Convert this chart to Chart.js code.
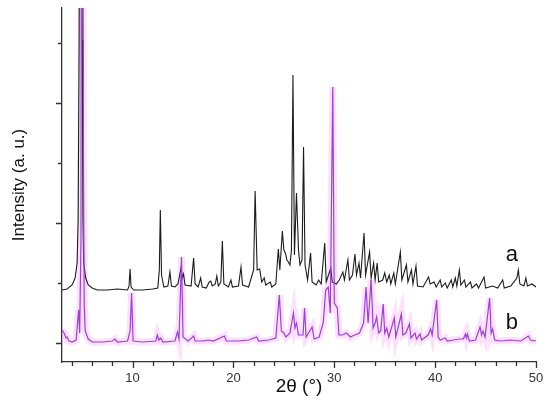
<!DOCTYPE html>
<html>
<head>
<meta charset="utf-8">
<script src="https://cdn.jsdelivr.net/npm/chart.js@4.4.0/dist/chart.umd.min.js"></script>
<style>
  body { margin: 0; background: #fff; }
  canvas { display: block; }
</style>
</head>
<body>
<canvas id="xrdChart" width="550" height="404"></canvas>
<script>
// pattern a (black), 2theta in degrees and intensity above its own baseline (a.u.)
const twoThetaA = [3.0, 3.5, 4.0, 4.3, 4.5, 4.6, 4.7, 4.8, 4.9, 5.0, 5.08, 5.15, 5.35, 5.6, 6.0, 6.5, 7.5, 8.5, 9.5, 9.65, 9.75, 9.85, 10.1,
  11.0, 12.0, 12.5, 12.65, 12.75, 12.87, 13.1, 13.5, 13.7, 13.85, 14.2, 14.5, 14.8, 14.92, 15.05, 15.2, 15.8, 16.05, 16.2, 16.5,
  16.75, 16.9, 17.3, 17.6, 17.75, 17.9, 18.2, 18.35, 18.5, 18.75, 18.9, 19.05, 19.5, 19.75, 19.9, 20.5, 20.75, 20.9, 21.5, 22.0,
  22.15, 22.35, 22.6, 22.8, 23.05, 23.2, 23.65, 23.8, 24.2, 24.45, 24.6, 24.85, 25.0, 25.15, 25.3, 25.45, 25.6, 25.75, 25.9, 26.05,
  26.25, 26.45, 26.6, 26.8, 26.95, 27.1, 27.35, 27.65, 27.8, 28.2, 28.45, 28.7, 29.05, 29.2, 29.65, 29.8, 30.2, 30.5, 30.85, 31.0,
  31.35, 31.5, 31.8, 32.05, 32.2, 32.45, 32.6, 32.95, 33.1, 33.5, 33.65, 33.9, 34.05, 34.25, 34.4, 34.8, 35.0, 35.2, 35.45, 35.6,
  35.9, 36.05, 36.55, 36.7, 37.15, 37.3, 37.65, 37.8, 38.1, 38.25, 38.8, 39.35, 39.5, 39.9, 40.1, 40.5, 40.65, 41.0, 41.2, 41.6,
  41.75, 42.0, 42.15, 42.4, 42.55, 42.9, 43.05, 43.5, 43.65, 44.1, 44.3, 44.85, 45.0, 45.7, 46.2, 46.7, 46.85, 47.5, 48.1, 48.25,
  48.4, 48.8, 49.0, 49.15, 49.6, 50.0];
const intensityA = [0, 1, 5, 12, 27, 70, 250, 700, 700, 250, 70, 27, 12, 5, 2, 0, 0, 1, 0, 4, 21, 3, 0,
  0, 1, 2, 20, 80, 15, 3, 4, 18, 4, 3, 6, 22, 12, 16, 5, 4, 32, 6, 3,
  12, 3, 2, 8, 9, 4, 6, 14, 4, 8, 49, 6, 3, 10, 3, 4, 23, 5, 3, 20,
  99, 20, 21, 8, 12, 5, 8, 3, 6, 41, 20, 59, 40, 37, 30, 28, 25, 40, 215, 35,
  97, 40, 25, 30, 143, 25, 10, 37, 8, 5, 10, 6, 47, 8, 22, 8, 6, 10, 18, 10,
  30, 10, 15, 36, 15, 27, 12, 57, 15, 38, 12, 27, 10, 27, 8, 10, 17, 8, 15, 6,
  17, 6, 38, 10, 25, 8, 20, 6, 24, 4, 3, 13, 6, 8, 3, 10, 3, 7, 2, 10,
  3, 12, 4, 20, 5, 10, 3, 8, 2, 6, 2, 13, 2, 4, 2, 10, 2, 4, 12, 20,
  6, 4, 12, 4, 6, 3];

// pattern b (magenta)
const twoThetaB = [3.0, 3.2, 3.4, 3.5, 3.7, 4.0, 4.4, 4.65, 4.75, 4.88, 4.94, 5.04, 5.12, 5.2, 5.3, 5.6, 6.0, 7.0, 8.0, 8.25, 8.5,
  9.5, 9.75, 9.9, 10.05, 11.0, 12.3, 12.45, 12.6, 12.8, 13.0, 14.2, 14.45, 14.6, 14.85, 15.0, 15.5, 16.05, 16.2, 17.0, 17.5,
  18.0, 19.1, 19.3, 20.5, 21.5, 22.3, 22.5, 23.5, 24.2, 24.55, 24.75, 25.0, 25.2, 25.6, 25.95, 26.1, 26.25, 26.45, 26.9, 27.05,
  27.2, 27.8, 28.0, 28.5, 28.9, 29.15, 29.4, 29.6, 29.85, 30.0, 30.3, 30.45, 30.8, 31.2, 31.6, 32.0, 32.5, 32.9, 33.15, 33.35,
  33.65, 33.85, 34.05, 34.2, 34.4, 34.6, 34.85, 35.0, 35.2, 35.4, 35.95, 36.1, 36.65, 36.8, 37.1, 37.45, 37.6, 38.0, 38.15, 38.5,
  38.65, 39.3, 39.55, 39.7, 40.15, 40.3, 40.5, 41.0, 41.2, 41.8, 42.4, 42.8, 43.0, 43.1, 43.2, 43.4, 44.0, 44.45, 44.6, 44.75,
  44.95, 45.4, 45.55, 45.7, 45.9, 46.5, 47.5, 48.5, 49.25, 49.45, 50.0];
const intensityB = [13, 10, 5, 6, 2, 1, 3, 33, 10, 100, 700, 700, 200, 40, 12, 4, 1, 1, 2, 4, 1,
  2, 12, 50, 2, 1, 2, 8, 3, 5, 1, 2, 11, 4, 86, 6, 2, 7, 2, 2, 3,
  2, 7, 2, 2, 3, 6, 2, 3, 5, 48, 12, 10, 6, 10, 30, 15, 20, 8, 8, 35,
  6, 16, 4, 6, 20, 53, 56, 30, 256, 40, 35, 8, 8, 10, 6, 8, 10, 20, 56, 20,
  63, 15, 20, 26, 10, 12, 39, 10, 15, 6, 25, 6, 29, 8, 10, 19, 5, 10, 4, 9,
  3, 8, 14, 8, 43, 6, 3, 5, 2, 3, 4, 4, 9, 5, 9, 2, 3, 16, 8, 12,
  6, 45, 10, 14, 3, 2, 3, 2, 7, 3, 2];

const offsetA = 53;
const offsetB = 0;
const xTickLabels = [10, 20, 30, 40, 50];
const yTickValues = [0, 60, 120, 180, 240, 300];

const pointsA = twoThetaA.map((t, i) => ({ x: t, y: intensityA[i] + offsetA }));
const pointsB = twoThetaB.map((t, i) => ({ x: t, y: intensityB[i] + offsetB }));

const FONT = '"Liberation Sans", Arial, sans-serif';

// minor / major tick marks and the a / b labels
const tickMarks = {
  id: 'tickMarks',
  afterDraw(chart) {
    const { ctx, chartArea, scales } = chart;
    ctx.save();
    ctx.strokeStyle = '#333';
    ctx.lineWidth = 1.3;
    ctx.beginPath();
    for (let v = 4; v <= 50; v += 2) {
      const px = Math.round(scales.x.getPixelForValue(v)) + 0.5;
      const len = v % 10 === 0 ? 6 : 4;
      ctx.moveTo(px, chartArea.bottom);
      ctx.lineTo(px, chartArea.bottom + len);
    }
    yTickValues.forEach((v) => {
      const py = Math.round(scales.y.getPixelForValue(v)) + 0.5;
      const len = v % 120 === 0 ? 6 : 4;
      ctx.moveTo(chartArea.left, py);
      ctx.lineTo(chartArea.left - len, py);
    });
    ctx.stroke();

    ctx.fillStyle = '#111';
    ctx.font = '22px ' + FONT;
    ctx.textAlign = 'center';
    ctx.textBaseline = 'middle';
    ctx.fillText('a', scales.x.getPixelForValue(47.6), scales.y.getPixelForValue(88));
    ctx.fillText('b', scales.x.getPixelForValue(47.6), scales.y.getPixelForValue(20));
    ctx.restore();
  }
};

new Chart(document.getElementById('xrdChart'), {
  type: 'line',
  data: {
    datasets: [
      {
        label: 'b',
        data: pointsB,
        borderColor: '#9a3fe0',
        borderWidth: 1.2,
        pointRadius: 0,
        tension: 0
      },
      {
        label: 'a',
        data: pointsA,
        borderColor: '#1c1c1c',
        borderWidth: 1.1,
        pointRadius: 0,
        tension: 0
      },
      {
        label: 'b halo',
        data: pointsB,
        borderColor: 'rgba(245, 165, 245, 0.35)',
        borderWidth: 7,
        pointRadius: 0,
        tension: 0
      }
    ]
  },
  options: {
    responsive: false,
    animation: false,
    layout: { padding: { top: 8, right: 14, left: 0, bottom: 0 } },
    plugins: {
      legend: { display: false },
      tooltip: { enabled: false }
    },
    scales: {
      x: {
        type: 'linear',
        min: 3,
        max: 50,
        afterBuildTicks: (scale) => { scale.ticks = xTickLabels.map(v => ({ value: v })); },
        afterFit: (scale) => { scale.height = 42; },
        grid: { display: false },
        border: { display: true, color: '#333', width: 1.3 },
        ticks: { color: '#333', font: { family: FONT, size: 13 }, padding: 1, maxRotation: 0 },
        title: { display: true, text: '2θ (°)', color: '#111', font: { family: FONT, size: 19 }, padding: { top: 0, bottom: 6 } }
      },
      y: {
        type: 'linear',
        min: -19,
        max: 335,
        afterFit: (scale) => { scale.width = 62; },
        grid: { display: false },
        border: { display: true, color: '#333', width: 1.3 },
        ticks: { display: false },
        title: { display: true, text: 'Intensity (a. u.)', color: '#111', font: { family: FONT, size: 17 }, padding: { top: 9, bottom: 0 } }
      }
    }
  },
  plugins: [tickMarks]
});
</script>
</body>
</html>
